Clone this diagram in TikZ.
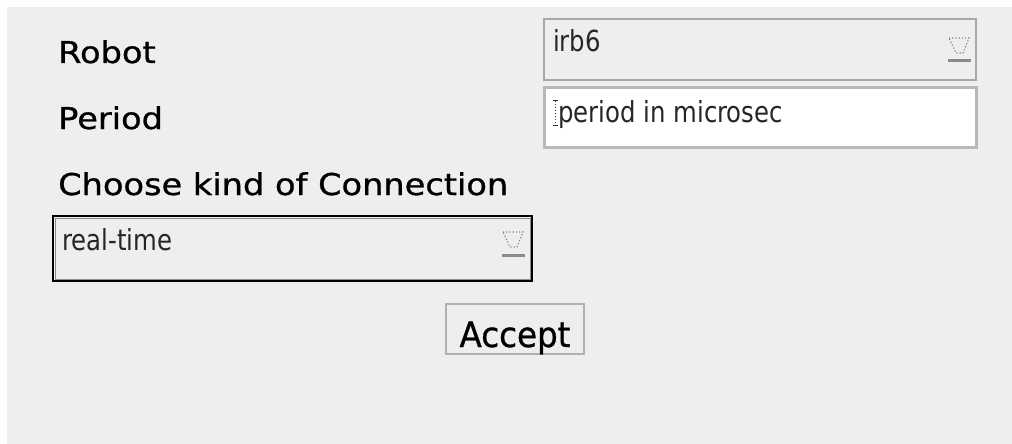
\documentclass[tikz,border=0pt]{standalone}
\usepackage{fontspec}
\newfontfamily\labelfont[FakeStretch=1.12,FakeBold=0.9]{DejaVu Sans}
\newfontfamily\buttonfont[FakeStretch=0.93,FakeBold=0.9]{DejaVu Sans}
\newfontfamily\fieldfont[FakeStretch=0.84]{DejaVu Sans}
\definecolor{panel}{HTML}{EEEEEE}
\definecolor{frame}{HTML}{A8A8A8}
\definecolor{fieldframe}{HTML}{B8B8B8}
\definecolor{icongrey}{HTML}{8A8A8A}
\tikzset{
  lbl/.style={font={\labelfont\fontsize{30}{36}\selectfont}, anchor=base west, inner sep=0pt, text=black},
  fieldtext/.style={font={\fieldfont\fontsize{29}{34}\selectfont}, anchor=base west, inner sep=0pt, text=black!85},
  combo/.style={draw=frame, line width=2.5pt, fill=panel, inner sep=0pt, outer sep=0pt},
  entry/.style={draw=fieldframe, line width=3pt, fill=white, inner sep=0pt, outer sep=0pt},
  activecombo/.style={draw=black, line width=2pt, fill=panel, inner sep=0pt, outer sep=0pt},
  pushbutton/.style={draw=frame!90, line width=1.5pt, fill=panel, inner sep=0pt, outer sep=0pt},
  dropdown/.pic={
    \draw[icongrey, line width=1.2pt, dotted] (-27,19) -- (-7,19) -- (-13,34) -- (-20,34) -- cycle;
    \draw[icongrey, line width=3pt] (-28,42) -- (-5,42);
  }
}
\begin{document}
\begin{tikzpicture}[x=1pt,y=-1pt]
\useasboundingbox (0,0) rectangle (1012,444);
\fill[white] (0,0) rectangle (1012,444);
\fill[panel] (7,7) rectangle (1012,444);

% field labels
\node[lbl] (robotlbl) at (58,63) {Robot};
\node[lbl] (periodlbl) at (58,129) {Period};
\node[lbl] (connlbl) at (58,195) {Choose kind of Connection};

% robot selector
\node[combo, minimum width=432pt, minimum height=61pt] (robotbox) at (760,49.5) {};
\node[fieldtext] (robotval) at (553,52) {irb6};
\pic at (robotbox.north east) {dropdown};

% period entry with text cursor
\node[entry, minimum width=432pt, minimum height=60pt] (periodbox) at (760,117) {};
\draw[black!80, line width=1pt, dotted] (555,101) -- (555,124);
\draw[black!80, line width=1pt] (552.5,100) -- (557.5,100) (552.5,125) -- (557.5,125);
\node[fieldtext] (periodval) at (558,122) {period in microsec};

% connection selector
\node[activecombo, minimum width=479pt, minimum height=65pt] (connbox) at (292.5,248.5) {};
\draw[black!45, line width=0.8pt] ([shift={(2,2)}]connbox.north west) rectangle ([shift={(-2,-2)}]connbox.south east);
\node[fieldtext] (connval) at (62,250) {real-time};
\pic at ([xshift=-2pt,yshift=3pt]connbox.north east) {dropdown};

% accept button
\node[pushbutton, minimum width=138pt, minimum height=50pt] (acceptbtn) at (515,329) {};
\node[lbl, anchor=base, font={\buttonfont\fontsize{35}{40}\selectfont}] (acceptlbl) at (515,347) {Accept};
\end{tikzpicture}
\end{document}
